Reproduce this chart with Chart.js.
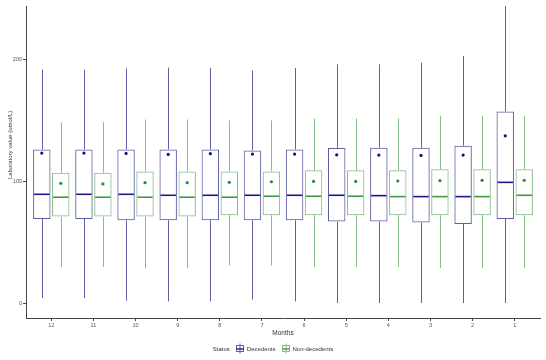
<!DOCTYPE html>
<html>
<head>
<meta charset="utf-8">
<script src="https://cdn.jsdelivr.net/npm/chart.js@4.4.0/dist/chart.umd.min.js"></script>
<style>
  html, body { margin: 0; padding: 0; background: #fff; }
</style>
</head>
<body>
<canvas id="chart" width="546" height="360"></canvas>
<script>
// months before death, read left to right
const months = ['12', '11', '10', '9', '8', '7', '6', '5', '4', '3', '2', '1'];

// Decedents
const decMin  = [4.4, 4.4, 2.2, 1.6, 1.6, 3.0, 1.6, 0.3, 0.3, 0.3, 0.3, 0.3];
const decQ1   = [69.3, 69.3, 68.2, 68.2, 68.2, 68.2, 68.2, 67.1, 67.1, 66.3, 65.2, 69.3];
const decMed  = [89.5, 89.5, 89.5, 88.7, 88.7, 88.7, 88.7, 88.7, 88.4, 87.6, 87.6, 99.3];
const decQ3   = [126.3, 126.3, 126.3, 126.3, 126.3, 125.5, 126.3, 127.4, 127.7, 127.7, 129.3, 157.4];
const decMax  = [191.8, 191.8, 192.9, 193.4, 193.2, 191.0, 193.2, 196.2, 196.2, 197.5, 203.0, 244];
const decMean = [123.3, 123.3, 123.0, 122.2, 122.8, 122.5, 122.5, 121.9, 121.7, 121.4, 121.7, 137.5];

// Non-decedents
const nonMin  = [29.8, 29.8, 28.7, 28.7, 31.1, 31.1, 29.8, 29.8, 29.8, 29.0, 29.0, 29.0];
const nonQ1   = [71.2, 71.2, 71.2, 71.2, 72.3, 72.3, 72.3, 72.3, 72.3, 72.3, 72.3, 72.3];
const nonMed  = [87.1, 87.1, 87.1, 87.1, 87.1, 87.9, 87.9, 87.9, 87.6, 87.6, 87.6, 88.7];
const nonQ3   = [107.2, 107.2, 108.3, 108.3, 108.3, 108.3, 109.2, 109.2, 109.2, 110.0, 110.0, 110.0];
const nonMax  = [148.7, 148.7, 150.9, 150.9, 150.1, 150.1, 151.7, 151.7, 151.7, 153.9, 153.9, 153.9];
const nonMean = [98.5, 98.0, 99.0, 99.0, 99.3, 99.8, 100.1, 100.1, 100.4, 100.7, 101.0, 101.0];

const yTicks = [0, 100, 200];

const groups = [
  { label: 'Decedents', min: decMin, q1: decQ1, med: decMed, q3: decQ3, max: decMax, mean: decMean,
    line: '#5f5fa6', median: '#1a1a8a', dot: '#10107e' },
  { label: 'Non-decedents', min: nonMin, q1: nonQ1, med: nonMed, q3: nonQ3, max: nonMax, mean: nonMean,
    line: '#86bd86', median: '#3f9a3f', dot: '#22922a' }
];

function seg(ctx, x1, y1, x2, y2) {
  ctx.beginPath();
  ctx.moveTo(x1, y1);
  ctx.lineTo(x2, y2);
  ctx.stroke();
}

// whiskers, medians and means, placed from the bar elements and the y scale
const boxParts = {
  id: 'boxParts',
  afterDatasetsDraw(chart) {
    const ctx = chart.ctx;
    const y = chart.scales.y;
    ctx.save();
    groups.forEach((g, di) => {
      chart.getDatasetMeta(di).data.forEach((bar, i) => {
        const cx = Math.round(bar.x) + 0.5;
        const l = bar.x - bar.width / 2, r = bar.x + bar.width / 2;
        ctx.strokeStyle = g.line;
        ctx.lineWidth = 1;
        seg(ctx, cx, y.getPixelForValue(g.q3[i]), cx, y.getPixelForValue(g.max[i]));
        seg(ctx, cx, y.getPixelForValue(g.q1[i]), cx, y.getPixelForValue(g.min[i]));
        ctx.strokeStyle = g.median;
        ctx.lineWidth = 1.6;
        const ym = y.getPixelForValue(g.med[i]);
        seg(ctx, l + 1, ym, r - 1, ym);
        ctx.fillStyle = g.dot;
        ctx.beginPath();
        ctx.arc(bar.x, y.getPixelForValue(g.mean[i]), 1.6, 0, Math.PI * 2);
        ctx.fill();
      });
    });

    // y axis title, sitting a little above the panel centre as in the original
    ctx.font = '6px "Liberation Sans", Arial, sans-serif';
    ctx.fillStyle = '#333';
    ctx.textAlign = 'center';
    ctx.textBaseline = 'middle';
    ctx.save();
    ctx.translate(10, y.getPixelForValue(130));
    ctx.rotate(-Math.PI / 2);
    ctx.fillText('Laboratory value (umol/L)', 0, 0);
    ctx.restore();

    // legend: "Status" + two boxplot keys, centred under the chart
    const ly = 349;
    ctx.textAlign = 'left';
    const key = 8, gap = 3, itemGap = 6;
    const wTitle = ctx.measureText('Status').width;
    const widths = groups.map(g => ctx.measureText(g.label).width);
    const total = wTitle + itemGap + widths.reduce((a, w) => a + key + gap + w + itemGap, 0) - itemGap;
    let x = chart.width / 2 - total / 2;
    ctx.fillText('Status', x, ly);
    x += wTitle + itemGap;
    groups.forEach((g, k) => {
      ctx.strokeStyle = g.line;
      ctx.lineWidth = 1;
      ctx.strokeRect(Math.round(x) + 0.5, ly - 3.5, key - 1, 6);
      seg(ctx, Math.round(x) + key / 2, ly - 5.5, Math.round(x) + key / 2, ly + 4.5);
      ctx.strokeStyle = g.median;
      ctx.lineWidth = 1.4;
      seg(ctx, Math.round(x) + 0.5, ly, Math.round(x) + key - 0.5, ly);
      x += key + gap;
      ctx.fillStyle = '#333';
      ctx.fillText(g.label, x, ly);
      x += widths[k] + itemGap;
    });
    ctx.restore();
  }
};

Chart.defaults.font.family = '"Liberation Sans", Arial, sans-serif';
Chart.defaults.color = '#555';

new Chart(document.getElementById('chart').getContext('2d'), {
  type: 'bar',
  data: {
    datasets: groups.map(g => ({
      label: g.label,
      data: months.map((m, i) => ({ x: i + 1, y: [g.q1[i], g.q3[i]] })),
      backgroundColor: 'rgba(255,255,255,0)',
      borderColor: g.line,
      borderWidth: 1,
      borderSkipped: false,
      categoryPercentage: 0.9,
      barPercentage: 0.92
    }))
  },
  options: {
    responsive: false,
    animation: false,
    devicePixelRatio: 1,
    layout: { padding: { top: 6, right: 6, left: 0, bottom: 20 } },
    plugins: {
      legend: { display: false },
      tooltip: { enabled: false }
    },
    scales: {
      x: {
        type: 'linear',
        offset: false,
        min: 0.4,
        max: 12.6,
        afterBuildTicks: s => { s.ticks = months.map((m, i) => ({ value: i + 1 })); },
        afterFit: s => { s.height = 22; },
        ticks: {
          autoSkip: false,
          maxRotation: 0,
          padding: 1,
          font: { size: 5.5 },
          callback: v => months[v - 1]
        },
        grid: { offset: false, drawOnChartArea: false, drawTicks: true, tickLength: 3, color: '#444' },
        border: { display: true, color: '#444', width: 1 },
        title: { display: true, text: 'Months', font: { size: 6.5 }, color: '#333', padding: { top: 0, bottom: 3 } }
      },
      y: {
        min: -12,
        max: 244,
        afterBuildTicks: s => { s.ticks = yTicks.map(v => ({ value: v })); },
        afterFit: s => { s.width = 26; },
        ticks: { padding: 1, font: { size: 5.5 } },
        grid: { drawOnChartArea: false, drawTicks: true, tickLength: 3, color: '#444' },
        border: { display: true, color: '#444', width: 1 },
        title: { display: false }
      }
    }
  },
  plugins: [boxParts]
});
</script>
</body>
</html>
